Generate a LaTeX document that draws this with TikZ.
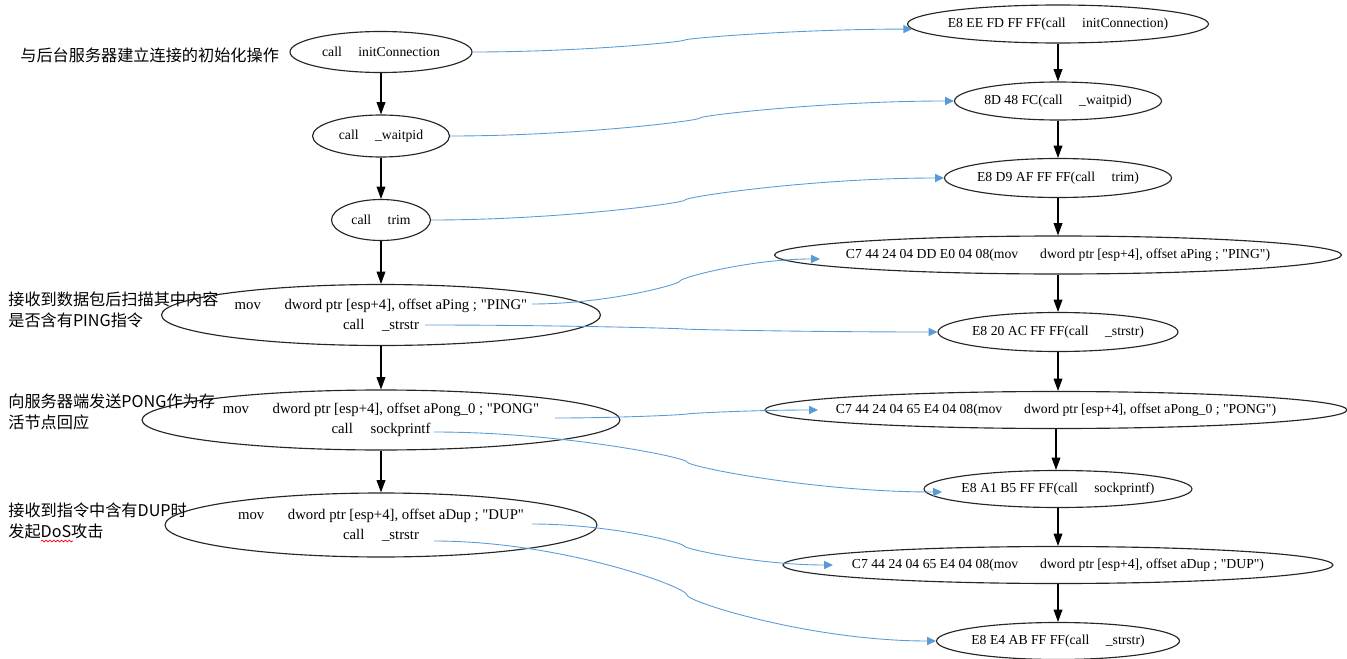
\documentclass[tikz,border=0pt]{standalone}
\usepackage{fontspec}
\setmainfont{Liberation Serif}[Ligatures=TeXOff]
\newfontfamily\cjk{Noto Sans CJK SC}
\usetikzlibrary{shapes.geometric,arrows.meta,decorations.pathmorphing,calc}
\definecolor{linkblue}{HTML}{5B9BD5}
\newcommand{\opgap}{\hspace{1.2em}}
\newcommand{\movgap}{\hspace{1.6em}}
\newcommand{\zw}[1]{\makebox[0pt]{#1}}

\begin{document}
\begin{tikzpicture}[x=0.02cm,y=-0.02cm,
    op/.style={ellipse,draw=black!85,line width=0.65pt,inner sep=0pt,align=center,font=\fontsize{7.8}{11.3}\selectfont},
    opwide/.style={op,font=\fontsize{8.4}{11.3}\selectfont},
    note/.style={anchor=west,inner sep=0pt,align=left,font=\cjk\fontsize{9.2}{12}\selectfont},
    flow/.style={-{Triangle[length=7pt,width=5pt]},line width=0.6pt},
    map/.style={linkblue,-{Triangle[length=5pt,width=4.6pt]},line width=0.5pt}]
    \useasboundingbox (0,0) rectangle (1347,659);

    \node[op,minimum width=3.64cm,minimum height=0.82cm] (L1) at (381,52) {\zw{call\opgap initConnection}};
    \node[op,minimum width=2.74cm,minimum height=0.84cm] (L2) at (381,136) {\zw{call\opgap \_waitpid}};
    \node[op,minimum width=1.98cm,minimum height=0.82cm] (L3) at (381,220) {\zw{call\opgap trim}};
    \node[opwide,minimum width=8.78cm,minimum height=1.22cm] (L4) at (381,315) {\zw{mov\movgap dword ptr [esp+4], offset aPing ; "PING"}\\\zw{call\opgap \_strstr}};
    \node[opwide,minimum width=9.56cm,minimum height=1.2cm] (L5) at (381,420) {\zw{mov\movgap dword ptr [esp+4], offset aPong\_0 ; "PONG"}\\\zw{call\opgap sockprintf}};
    \node[opwide,minimum width=8.64cm,minimum height=1.28cm] (L6) at (381,525) {\zw{mov\movgap dword ptr [esp+4], offset aDup ; "DUP"}\\\zw{call\opgap \_strstr}};

    \node[op,minimum width=6.02cm,minimum height=0.76cm] (R1) at (1058,24) {\zw{E8 EE FD FF FF(call\opgap initConnection)}};
    \node[op,minimum width=4.14cm,minimum height=0.76cm] (R2) at (1058,101) {\zw{8D 48 FC(call\opgap \_waitpid)}};
    \node[op,minimum width=4.54cm,minimum height=0.78cm] (R3) at (1058,178) {\zw{E8 D9 AF FF FF(call\opgap trim)}};
    \node[op,minimum width=11.34cm,minimum height=0.76cm] (R4) at (1058,255) {\zw{C7 44 24 04 DD E0 04 08(mov\movgap dword ptr [esp+4], offset aPing ; "PING")}};
    \node[op,minimum width=4.8cm,minimum height=0.78cm] (R5) at (1058,332) {\zw{E8 20 AC FF FF(call\opgap \_strstr)}};
    \node[op,minimum width=11.64cm,minimum height=0.74cm] (R6) at (1056,410) {\zw{C7 44 24 04 65 E4 04 08(mov\movgap dword ptr [esp+4], offset aPong\_0 ; "PONG")}};
    \node[op,minimum width=5.36cm,minimum height=0.74cm] (R7) at (1058,489) {\zw{E8 A1 B5 FF FF(call\opgap sockprintf)}};
    \node[op,minimum width=11.0cm,minimum height=0.74cm] (R8) at (1058,565) {\zw{C7 44 24 04 65 E4 04 08(mov\movgap dword ptr [esp+4], offset aDup ; "DUP")}};
    \node[op,minimum width=4.86cm,minimum height=0.74cm] (R9) at (1058,641) {\zw{E8 E4 AB FF FF(call\opgap \_strstr)}};

    \node[note] (n1) at (20,55) {与后台服务器建立连接的初始化操作};
    \node[note] (n2) at (8,310) {接收到数据包后扫描其中内容\\是否含有PING指令};
    \node[note] (n3) at (8,412) {向服务器端发送PONG作为存\\活节点回应};
    \node[note] (n4) at (8,521) {接收到指令中含有DUP时\\发起DoS攻击};
    \draw[red,line width=0.4pt,decorate,decoration={snake,amplitude=0.5pt,segment length=2.2pt}] (41,541) -- (73,541);

    \foreach \a/\b in {L1/L2,L2/L3,L3/L4,L4/L5,L5/L6,R1/R2,R2/R3,R3/R4,R4/R5,R5/R6,R6/R7,R7/R8,R8/R9}
      \draw[flow] (\a.south) -- (\a.south |- \b.north);

    \coordinate (pingOut) at (532,304);
    \coordinate (strOut) at (425,325);
    \coordinate (pongOut) at (555,418);
    \coordinate (sockOut) at (434,432);
    \coordinate (dupOut) at (532,524);
    \coordinate (dupStrOut) at (434,541);
    \coordinate (pingIn) at (820,259);
    \coordinate (pongIn) at (818,410);
    \coordinate (sockIn) at (942,492);
    \coordinate (dupIn) at (833,565);
    \coordinate (k1) at (685,40);
    \coordinate (k2) at (700,118);
    \coordinate (k3) at (685,200);
    \coordinate (k4) at (680,281);
    \coordinate (k5) at (684,329);
    \coordinate (k6) at (687,414);
    \coordinate (k7) at (687,462);
    \coordinate (k8) at (684,546);
    \coordinate (k9) at (687,595);
    \foreach \s/\k/\e in {L1.east/k1/R1.182,L2.east/k2/R2.west,L3.east/k3/R3.west,pingOut/k4/pingIn,strOut/k5/R5.west,pongOut/k6/pongIn,sockOut/k7/sockIn,dupOut/k8/dupIn,dupStrOut/k9/R9.west}
      \draw[map] (\s) .. controls ($(\s)!0.5!(\k |- \s)$) and ($(\k)!0.15!(\k |- \s)$) .. (\k)
        .. controls ($(\k)!0.15!(\k |- \e)$) and ($(\e)!0.5!(\k |- \e)$) .. (\e);
  \end{tikzpicture}
\end{document}
